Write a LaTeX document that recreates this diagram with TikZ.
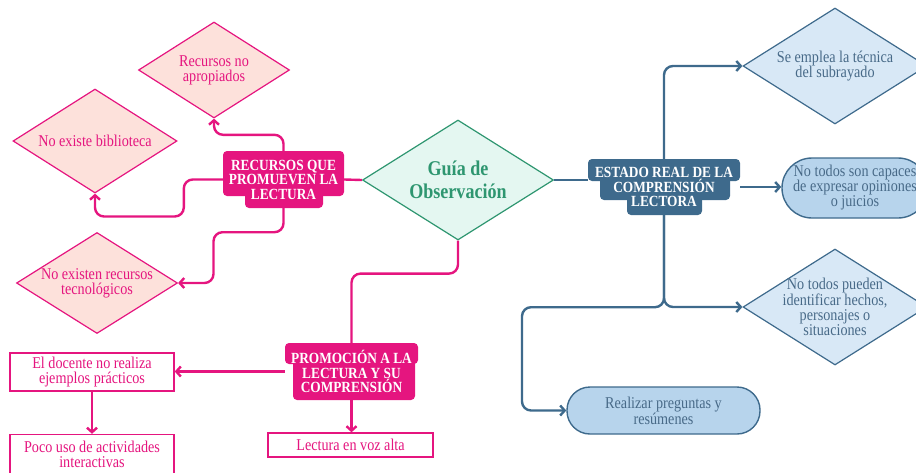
\documentclass[tikz,border=0pt]{standalone}
\usepackage{fontspec}
\setmainfont{Liberation Serif}[FakeStretch=0.86]
\usetikzlibrary{shapes.geometric}
\usetikzlibrary{arrows.meta}
\definecolor{magline}{RGB}{229,21,127}
\definecolor{pinkfill}{RGB}{253,225,219}
\definecolor{mintline}{RGB}{46,150,112}
\definecolor{mintfill}{RGB}{228,247,241}
\definecolor{steelline}{RGB}{62,106,140}
\definecolor{bluefill}{RGB}{216,232,246}
\definecolor{bluepill}{RGB}{183,212,236}
\definecolor{bluetext}{RGB}{72,106,136}
\newcommand*{\bodyfont}{\fontsize{16.5}{15}\selectfont}
\newcommand*{\headfont}{\fontsize{15.5}{14.5}\selectfont\bfseries}
\newcommand*{\rad}{4pt}

\begin{document}
\begin{tikzpicture}[x=1pt, y=-1pt, font=\bodyfont,
    pinkdia/.style  = {diamond, draw=magline, fill=pinkfill, line width=1.2pt, text=magline, align=center, inner sep=-8pt, shape aspect=1.6},
    bluedia/.style  = {diamond, draw=steelline, fill=bluefill, line width=1.2pt, text=bluetext, align=center, inner sep=-8pt, shape aspect=1.6},
    pinkbox/.style  = {rectangle, draw=magline, fill=white, line width=1.4pt, text=magline, align=center, inner sep=0pt},
    bluepillbox/.style = {rectangle, draw=steelline, fill=bluepill, line width=1.4pt, text=bluetext, align=center, inner sep=0pt},
    headbox/.style  = {text=white, font=\headfont, align=center, inner sep=0pt},
    pinkarrow/.style = {draw=magline, line width=2.4pt, rounded corners=9pt, -{Straight Barb[length=4.5pt,width=10pt]}},
    bluearrow/.style = {draw=steelline, line width=2.4pt, rounded corners=9pt, -{Straight Barb[length=4.5pt,width=10pt]}},
    pinkconn/.style  = {draw=magline, line width=2.4pt, rounded corners=9pt},
    blueconn/.style  = {draw=steelline, line width=2.4pt, rounded corners=9pt}]
    \useasboundingbox (0,0) rectangle (916,472);

    % stepped label backgrounds
    \fill [magline, rounded corners=\rad] (223,151) rectangle (344,196);
    \fill [magline, rounded corners=\rad] (245,188) rectangle (323,208);
    \fill [magline, rounded corners=\rad] (285,343) rectangle (418,364);
    \fill [magline, rounded corners=\rad] (293,358) rectangle (415,400);
    \fill [steelline, rounded corners=\rad] (588,159) rectangle (740,181);
    \fill [steelline, rounded corners=\rad] (600,176) rectangle (730,200);
    \fill [steelline, rounded corners=\rad] (627,194) rectangle (702,215);

    \node [diamond, draw=mintline, fill=mintfill, line width=1.2pt, text=mintline, align=center, inner sep=-8pt, shape aspect=1.6,
           minimum width=191pt, minimum height=120pt, font=\fontsize{21}{23}\selectfont\bfseries] (guia) at (458,180) {Guía de\\Observación};

    \node [headbox, minimum width=121pt, minimum height=57pt] (recursos) at (283.5,179.5) {RECURSOS QUE\\PROMUEVEN LA\\LECTURA};
    \node [headbox, minimum width=133pt, minimum height=57pt] (promocion) at (351.5,371.5) {PROMOCIÓN A LA\\LECTURA Y SU\\COMPRENSIÓN};
    \node [headbox, minimum width=152pt, minimum height=56pt] (estado) at (664,187) {ESTADO REAL DE LA\\COMPRENSIÓN\\LECTORA};

    \node [pinkdia, minimum width=151pt, minimum height=96pt]  (apropiados)   at (214,70)  {Recursos no\\apropiados};
    \node [pinkdia, minimum width=164pt, minimum height=104pt] (biblioteca)   at (95,141)  {No existe biblioteca};
    \node [pinkdia, minimum width=161pt, minimum height=101pt] (tecnologicos) at (97,283)  {No existen recursos\\tecnológicos};

    \node [pinkbox, minimum width=164pt, minimum height=38pt] (docente) at (92,372)    {El docente no realiza\\ejemplos prácticos};
    \node [pinkbox, minimum width=164pt, minimum height=40pt] (pocouso) at (92,454.5)  {Poco uso de actividades\\interactivas};
    \node [pinkbox, minimum width=165pt, minimum height=24pt] (voz)     at (350.5,445) {Lectura en voz alta};

    \node [bluedia, minimum width=184pt, minimum height=116pt] (subrayado) at (835,66)  {Se emplea la técnica\\del subrayado};
    \node [bluedia, minimum width=184pt, minimum height=116pt] (pueden)    at (835,307) {No todos pueden\\identificar hechos,\\personajes o\\situaciones};

    \node [bluepillbox, rounded corners=30pt, minimum width=146pt, minimum height=60pt] (capaces) at (855,188) {No todos son capaces\\de expresar opiniones\\o juicios};
    \node [bluepillbox, rounded corners=23pt, minimum width=193pt, minimum height=47pt] (preguntas) at (663.5,410.5) {Realizar preguntas y\\resúmenes};

    % left side
    \draw [pinkconn]  (guia.west) -- (recursos.east);
    \draw [pinkarrow] (recursos.north) -- ++(0,-16) -| (apropiados.south);
    \draw [pinkarrow] (recursos.west) -- ++(-39,0) -- ++(0,37) -| (biblioteca.south);
    \draw [pinkarrow] (recursos.south) -- ++(0,24) -- ++(-70,0) |- (tecnologicos.east);
    \draw [pinkconn]  (guia.south) -- ++(0,33) -| (promocion.north);
    \draw [pinkarrow] (promocion.west) -- (promocion.west -| docente.east);
    \draw [pinkarrow] (docente.south) -- (pocouso.north);
    \draw [pinkarrow] (promocion.south) -- (promocion.south |- voz.north);

    % right side
    \draw [blueconn]  (guia.east) -- (guia.east -| estado.west);
    \draw [bluearrow] (estado.north) |- (subrayado.west);
    \draw [bluearrow] (estado.east) -- (estado.east -| capaces.west);
    \draw [bluearrow] (estado.south) |- (pueden.west);
    \draw [bluearrow] (estado.south) -- ++(0,92) -- ++(-142,0) |- (preguntas.west);
\end{tikzpicture}
\end{document}
